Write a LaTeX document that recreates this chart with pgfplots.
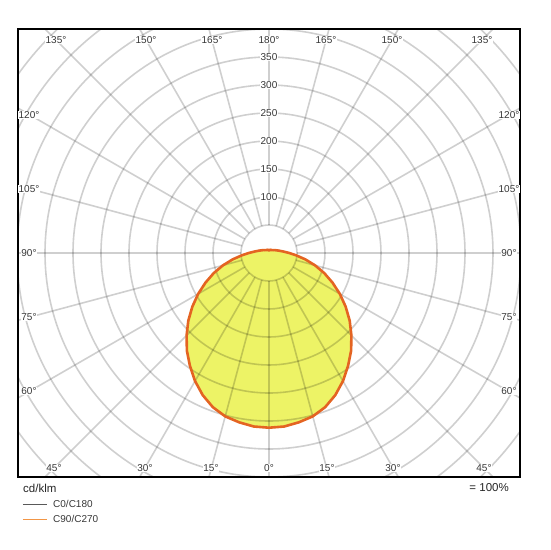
\documentclass[border=0pt]{standalone}
\usepackage{pgfplots}
\pgfplotsset{compat=1.18}
\usepackage{pgfplotstable}
\usepackage{fontspec}
\setmainfont{Liberation Sans}
\definecolor{fillyellow}{RGB}{237,243,102}
\definecolor{curveorange}{RGB}{228,100,34}
\definecolor{legorange}{RGB}{242,150,70}
\definecolor{labelgray}{RGB}{55,55,55}
\newcommand\lab{\fontsize{10}{12}\selectfont}

% C90/C270 plane: angle g (0..360, 0 = nadir), intensity I in cd/klm
\pgfplotstableread{
g I
0 312
5 311
10 307
15 302
20 293
25 280
30 264
35 246
40 228
45 208
50 188
55 167
60 146
65 125
70 105
75 85
80 66
85 49
90 36
95 27
100 21
105 17
110 14
115 12
120 10
130 8
140 7
150 6
160 6
170 5
180 5
190 5
200 6
210 6
220 7
230 8
240 10
245 12
250 14
255 17
260 21
265 27
270 36
275 49
280 66
285 85
290 105
295 125
300 146
305 167
310 188
315 208
320 228
325 246
330 264
335 280
340 293
345 302
350 307
355 311
360 312
}\cninety

% C0/C180 plane
\pgfplotstableread{
g I
0 312
5 311
10 307
15 302
20 293
25 280
30 264
35 246
40 228
45 208
50 188
55 167
60 146
65 125
70 105
75 85
80 66
85 49
90 36
95 27
100 21
105 17
110 14
115 12
120 10
130 8
140 7
150 6
160 6
170 5
180 5
190 5
200 6
210 6
220 7
230 8
240 10
245 12
250 14
255 17
260 21
265 27
270 36
275 49
280 66
285 85
290 105
295 125
300 146
305 167
310 188
315 208
320 228
325 246
330 264
335 280
340 293
345 302
350 307
355 311
360 312
}\czero

\begin{document}
\begin{tikzpicture}[gridline/.style={black, opacity=0.19, line width=1.6pt}]
\useasboundingbox (-269pt,-297pt) rectangle (281pt,253pt);
\begin{axis}[at={(0,0)}, anchor=center,
  width=502pt, height=448pt, scale only axis,
  xmin=-448, xmax=448, ymin=-400, ymax=400,
  xtick=\empty, ytick=\empty,
  axis line style={line width=2.4pt},
  clip=true]
\addplot[draw=none, fill=fillyellow] table[x expr={\thisrow{I}*sin(\thisrow{g})}, y expr={-\thisrow{I}*cos(\thisrow{g})}] {\cninety};
\pgfplotsinvokeforeach{50,100,...,600}{\draw[gridline] (axis cs:0,0) circle[radius=#1*0.56pt];}
\pgfplotsinvokeforeach{0,15,...,345}{\draw[gridline] (axis cs:0,0) ++(#1:28pt) -- ++(#1:400pt);}
\addplot[black!75, line width=0.8pt] table[x expr={\thisrow{I}*sin(\thisrow{g})}, y expr={-\thisrow{I}*cos(\thisrow{g})}] {\czero};
\addplot[curveorange, line width=2.6pt] table[x expr={\thisrow{I}*sin(\thisrow{g})}, y expr={-\thisrow{I}*cos(\thisrow{g})}] {\cninety};
\end{axis}
% radial value labels
\foreach \r in {100,150,200,250,300,350}
  \node[fill=white, inner sep=0.8pt, text=labelgray, font=\lab] at (0pt,{\r*0.56pt}) {\r};
% angle labels
\begin{scope}[every node/.style={fill=white, inner sep=0.8pt, text=labelgray, font=\lab}]
\node at (-213pt,213pt) {135°};
\node at (-123pt,213pt) {150°};
\node at (-57pt,213pt) {165°};
\node at (0pt,213pt) {180°};
\node at (57pt,213pt) {165°};
\node at (123pt,213pt) {150°};
\node at (213pt,213pt) {135°};
\node at (-240pt,138pt) {120°};
\node at (-240pt,64pt) {105°};
\node at (-240pt,0pt) {90°};
\node at (-240pt,-64pt) {75°};
\node at (-240pt,-138pt) {60°};
\node at (240pt,138pt) {120°};
\node at (240pt,64pt) {105°};
\node at (240pt,0pt) {90°};
\node at (240pt,-64pt) {75°};
\node at (240pt,-138pt) {60°};
\node at (-215pt,-215pt) {45°};
\node at (-124pt,-215pt) {30°};
\node at (-58pt,-215pt) {15°};
\node at (0pt,-215pt) {0°};
\node at (58pt,-215pt) {15°};
\node at (124pt,-215pt) {30°};
\node at (215pt,-215pt) {45°};
\end{scope}
% units and legend
\node[anchor=west, inner sep=0pt, text=black!85, font=\fontsize{11.5}{13}\selectfont] at (-246pt,-235pt) {cd/klm};
\node[anchor=east, inner sep=0pt, text=black!85, font=\fontsize{11.5}{13}\selectfont] at (240pt,-235pt) {= 100\%};
\draw[black!65, line width=0.8pt] (-246pt,-251pt) -- (-222pt,-251pt);
\draw[legorange, line width=0.8pt] (-246pt,-266pt) -- (-222pt,-266pt);
\node[anchor=west, inner sep=0pt, text=labelgray, font=\fontsize{10}{12}\selectfont] at (-216pt,-251pt) {C0/C180};
\node[anchor=west, inner sep=0pt, text=labelgray, font=\fontsize{10}{12}\selectfont] at (-216pt,-266pt) {C90/C270};
\end{tikzpicture}
\end{document}
